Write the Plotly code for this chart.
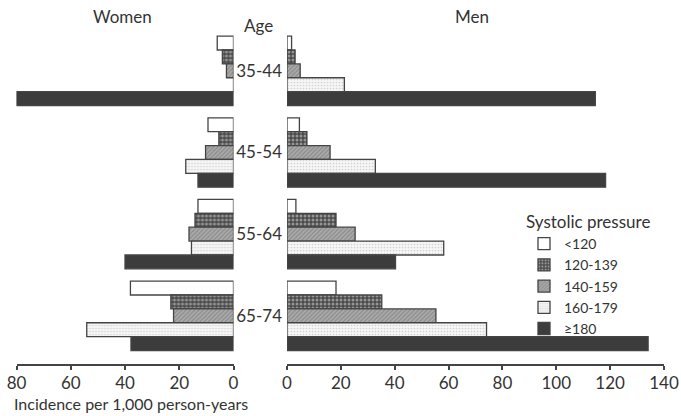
import plotly.graph_objects as go

ages = ["35-44", "45-54", "55-64", "65-74"]
groups = ["<120", "120-139", "140-159", "160-179", "≥180"]

women = {
    "<120":    [6.0, 9.4, 13.1, 38.0],
    "120-139": [4.1, 5.4, 14.2, 23.1],
    "140-159": [2.6, 10.3, 16.4, 22.1],
    "160-179": [0.0, 17.6, 15.5, 54.1],
    "≥180":    [80.0, 13.1, 40.0, 37.8],
}
men = {
    "<120":    [1.7, 4.6, 3.3, 18.2],
    "120-139": [3.0, 7.4, 18.2, 35.2],
    "140-159": [4.9, 16.0, 25.3, 55.3],
    "160-179": [21.3, 32.8, 58.2, 74.1],
    "≥180":    [114.5, 118.3, 40.3, 134.1],
}

left_ticks = [80, 60, 40, 20, 0]
right_ticks = [0, 20, 40, 60, 80, 100, 120, 140]

styles = {
    "<120":    dict(color="#ffffff", pattern=dict(shape="")),
    "120-139": dict(color="#555555", pattern=dict(shape=".", fgcolor="#e0e0e0", bgcolor="#4a4a4a", size=4, solidity=0.45)),
    "140-159": dict(color="#9a9a9a", pattern=dict(shape="/", fgcolor="#6a6a6a", bgcolor="#ababab", size=3, solidity=0.4)),
    "160-179": dict(color="#efefef", pattern=dict(shape=".", fgcolor="#b0b0b0", bgcolor="#f6f6f6", size=3, solidity=0.25)),
    "≥180":    dict(color="#3c3c3c", pattern=dict(shape="")),
}

FONT = "Lato"
TXT = "#333333"
H, W = 416, 681
TOP, BOT = 30, 364


def py(y):
    return (BOT - y) / (BOT - TOP)


fig = go.Figure()
for g in groups:
    st = styles[g]
    fig.add_trace(go.Bar(
        y=ages, x=women[g], orientation="h", name=g, xaxis="x", yaxis="y",
        showlegend=False,
        marker=dict(color=st["color"], pattern=st["pattern"], line=dict(color="#444444", width=1.3)),
    ))
for g in groups:
    st = styles[g]
    fig.add_trace(go.Bar(
        y=ages, x=men[g], orientation="h", name=g, xaxis="x2", yaxis="y2",
        showlegend=True,
        marker=dict(color=st["color"], pattern=st["pattern"], line=dict(color="#444444", width=1.3)),
    ))

axis_common = dict(showline=True, linecolor="#444444", linewidth=2, ticks="outside",
                   ticklen=4, tickwidth=2, tickcolor="#444444", showgrid=False, zeroline=False,
                   tickfont=dict(family=FONT, size=17, color=TXT), ticklabelstandoff=-1)

ann_font = dict(family=FONT, size=17, color=TXT)

fig.update_layout(
    width=W, height=H,
    margin=dict(l=0, r=0, t=TOP, b=H - BOT, autoexpand=False),
    paper_bgcolor="white", plot_bgcolor="white",
    barmode="group", bargap=0.15, bargroupgap=0,
    font=dict(family=FONT, color=TXT),
    xaxis=dict(domain=[16.5 / W, 233.5 / W], range=[80, 0], tickvals=left_ticks, anchor="y", **axis_common),
    xaxis2=dict(domain=[287 / W, 664 / W], range=[0, 140], tickvals=right_ticks, anchor="y2", **axis_common),
    yaxis=dict(type="category", categoryarray=ages, range=[3.59, -0.5], showticklabels=False,
               showline=False, showgrid=False, zeroline=False, ticks="", anchor="x"),
    yaxis2=dict(type="category", categoryarray=ages, range=[3.59, -0.5], anchor="x2", matches="y",
                showline=False, showgrid=False, zeroline=False, ticks="",
                tickfont=dict(family=FONT, size=17, color=TXT), ticklabelstandoff=4),
    legend=dict(x=524 / W, y=py(206), xanchor="left", yanchor="top",
                title=dict(text="Systolic pressure", font=dict(family=FONT, size=17, color=TXT)),
                font=dict(family=FONT, size=14, color=TXT),
                itemwidth=30, bgcolor="rgba(0,0,0,0)"),
    annotations=[
        dict(text="Women", x=123 / W, y=py(17), xref="paper", yref="paper", showarrow=False,
             xanchor="center", yanchor="middle", font=ann_font),
        dict(text="Men", x=472 / W, y=py(17), xref="paper", yref="paper", showarrow=False,
             xanchor="center", yanchor="middle", font=ann_font),
        dict(text="Age", x=258 / W, y=py(26), xref="paper", yref="paper", showarrow=False,
             xanchor="center", yanchor="middle", font=ann_font),
        dict(text="Incidence per 1,000 person-years", x=12 / W, y=py(403), xref="paper", yref="paper",
             xanchor="left", yanchor="middle", showarrow=False, font=dict(family=FONT, size=16, color=TXT)),
    ],
)

fig.write_html("out.html", config={"displayModeBar": False},
               post_script="document.body.style.margin='0px';")
